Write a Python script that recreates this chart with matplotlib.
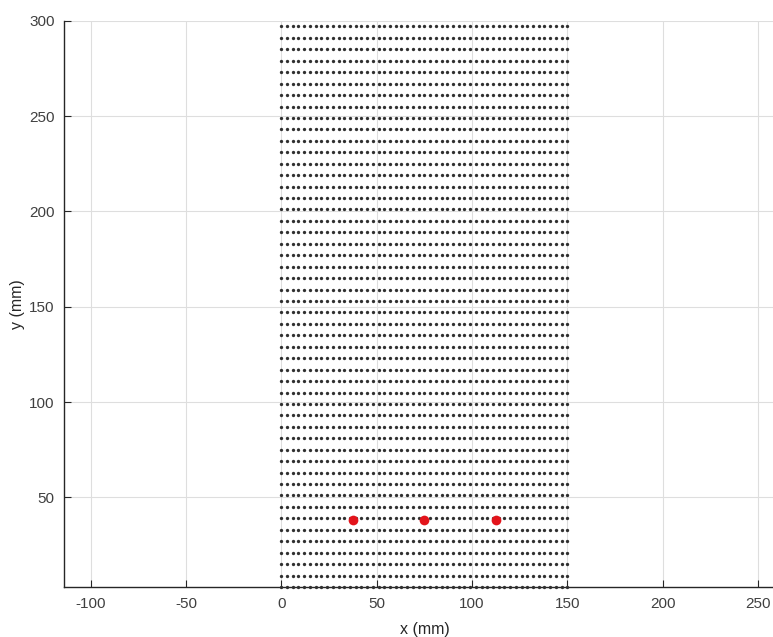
import matplotlib
matplotlib.use("Agg")
import matplotlib.pyplot as plt

# Grid sample positions (mm)
x_cols = [0, 3, 6, 9, 12, 15, 18, 21, 24, 27, 30, 33, 36, 39, 42, 45, 48, 51, 54, 57,
          60, 63, 66, 69, 72, 75, 78, 81, 84, 87, 90, 93, 96, 99, 102, 105, 108, 111,
          114, 117, 120, 123, 126, 129, 132, 135, 138, 141, 144, 147, 150]
y_rows = [3, 9, 15, 21, 27, 33, 39, 45, 51, 57, 63, 69, 75, 81, 87, 93, 99, 105, 111,
          117, 123, 129, 135, 141, 147, 153, 159, 165, 171, 177, 183, 189, 195, 201,
          207, 213, 219, 225, 231, 237, 243, 249, 255, 261, 267, 273, 279, 285, 291, 297]

# Red source points (mm)
red_x = [37.5, 75, 112.5]
red_y = [38, 38, 38]

x_ticks = [-100, -50, 0, 50, 100, 150, 200, 250]
y_ticks = [50, 100, 150, 200, 250, 300]

plt.rcParams['font.family'] = ['Liberation Sans', 'DejaVu Sans']
plt.rcParams['axes.unicode_minus'] = False

fig = plt.figure(figsize=(7.73, 6.37), dpi=100)
ax = fig.add_axes([0.0832, 0.0785, 0.932, 0.889])

gx = [x for y in y_rows for x in x_cols]
gy = [y for y in y_rows for x in x_cols]
ax.plot(gx, gy, linestyle='none', marker='o', markersize=2.4,
        color='#303030', markeredgewidth=0, clip_on=False, zorder=3)
ax.plot(red_x, red_y, linestyle='none', marker='o', markersize=7,
        color='#e3141b', markeredgewidth=0, zorder=4)

ax.set_xlim(-113.8, 264.0)
ax.set_ylim(3, 300)
ax.set_xticks(x_ticks)
ax.set_yticks(y_ticks)
ax.grid(True, color='#dedede', linewidth=0.8)
ax.set_axisbelow(True)
for s in ['top', 'right']:
    ax.spines[s].set_visible(False)
for s in ['left', 'bottom']:
    ax.spines[s].set_color('#262626')
    ax.spines[s].set_linewidth(1.0)
ax.tick_params(direction='in', length=5, width=0.8, colors='#262626',
               labelsize=11, labelcolor='#404040', pad=7)
ax.set_xlabel('x (mm)', fontsize=11.5, color='#262626', labelpad=8)
ax.set_ylabel('y (mm)', fontsize=11.5, color='#262626', labelpad=3)

fig.savefig('out.png', dpi=100)
